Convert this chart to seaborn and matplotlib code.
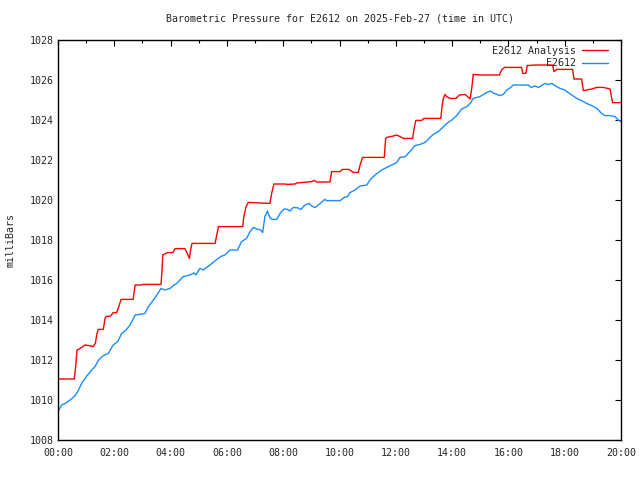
import matplotlib
matplotlib.use("Agg")
import matplotlib.pyplot as plt
import seaborn as sns
import pandas as pd
from matplotlib.ticker import MultipleLocator

# hours since 00:00 UTC
analysis_hours = [
    0.0, 0.58, 0.63, 0.675, 0.75, 0.96, 1.10, 1.25, 1.33, 1.385, 1.43, 1.61,
    1.67, 1.70, 1.87, 1.96, 2.08, 2.14, 2.24, 2.67, 2.74, 2.97, 3.02, 3.66,
    3.70, 3.72, 3.78, 3.90, 4.08, 4.16, 4.51, 4.59, 4.67, 4.71, 4.76, 5.58,
    5.64, 5.70, 6.56, 6.60, 6.68, 6.76, 7.53, 7.59, 7.67, 8.08, 8.15, 8.42,
    8.48, 8.71, 9.01, 9.11, 9.19, 9.66, 9.72, 10.02, 10.10, 10.34, 10.49,
    10.67, 10.73, 10.82, 11.59, 11.64, 11.68, 11.91, 12.03, 12.15, 12.27,
    12.60, 12.65, 12.71, 12.92, 13.00, 13.60, 13.64, 13.69, 13.75, 13.81,
    13.93, 14.14, 14.26, 14.46, 14.55, 14.64, 14.70, 14.75, 14.99, 15.68,
    15.76, 15.86, 16.47, 16.51, 16.62, 16.67, 16.94, 17.57, 17.62, 17.72,
    18.28, 18.33, 18.60, 18.66, 18.96, 19.14, 19.37, 19.61, 19.70, 20.0,
]
analysis_mb = [
    1011.05, 1011.05, 1011.72, 1012.50, 1012.55, 1012.75, 1012.72, 1012.67,
    1012.85, 1013.33, 1013.53, 1013.53, 1014.08, 1014.17, 1014.20, 1014.37,
    1014.37, 1014.58, 1015.03, 1015.03, 1015.75, 1015.75, 1015.78, 1015.78,
    1016.60, 1017.25, 1017.30, 1017.37, 1017.37, 1017.57, 1017.57, 1017.33,
    1017.08, 1017.50, 1017.83, 1017.83, 1018.25, 1018.67, 1018.67, 1019.17,
    1019.67, 1019.88, 1019.83, 1020.33, 1020.80, 1020.80, 1020.78, 1020.80,
    1020.85, 1020.88, 1020.92, 1020.98, 1020.90, 1020.90, 1021.42, 1021.42,
    1021.53, 1021.53, 1021.38, 1021.38, 1021.75, 1022.13, 1022.13, 1023.08,
    1023.13, 1023.20, 1023.25, 1023.17, 1023.08, 1023.08, 1023.58, 1023.98,
    1023.98, 1024.08, 1024.08, 1024.67, 1025.08, 1025.28, 1025.17, 1025.08,
    1025.08, 1025.25, 1025.28, 1025.17, 1025.05, 1025.60, 1026.28, 1026.25,
    1026.25, 1026.50, 1026.63, 1026.63, 1026.33, 1026.33, 1026.72, 1026.75,
    1026.75, 1026.42, 1026.53, 1026.53, 1026.05, 1026.05, 1025.47, 1025.55,
    1025.63, 1025.63, 1025.55, 1024.87, 1024.87,
]

station_hours = [
    0.0, 0.13, 0.25, 0.43, 0.60, 0.70, 0.84, 1.02, 1.20, 1.31, 1.46, 1.61,
    1.79, 1.96, 2.12, 2.26, 2.40, 2.56, 2.74, 2.91, 3.09, 3.21, 3.39, 3.51,
    3.66, 3.80, 3.98, 4.13, 4.22, 4.45, 4.69, 4.83, 4.90, 5.04, 5.16, 5.40,
    5.64, 5.82, 5.93, 6.11, 6.38, 6.52, 6.70, 6.82, 6.94, 7.06, 7.20, 7.27,
    7.35, 7.44, 7.51, 7.59, 7.77, 7.89, 8.03, 8.15, 8.24, 8.36, 8.54, 8.63,
    8.75, 8.92, 9.01, 9.13, 9.25, 9.48, 9.54, 10.02, 10.17, 10.29, 10.37,
    10.55, 10.73, 10.97, 11.08, 11.26, 11.50, 11.68, 11.85, 12.03, 12.15,
    12.33, 12.50, 12.68, 12.86, 13.04, 13.21, 13.33, 13.51, 13.63, 13.81,
    13.99, 14.16, 14.34, 14.52, 14.64, 14.75, 14.99, 15.17, 15.35, 15.46,
    15.70, 15.82, 15.94, 16.06, 16.17, 16.71, 16.80, 16.94, 17.06, 17.18,
    17.30, 17.42, 17.54, 17.66, 17.83, 18.01, 18.13, 18.25, 18.43, 18.60,
    18.78, 18.96, 19.14, 19.31, 19.43, 19.61, 19.79, 19.90, 20.0,
]
station_mb = [
    1009.42, 1009.75, 1009.83, 1010.00, 1010.20, 1010.42, 1010.83, 1011.20,
    1011.50, 1011.67, 1012.03, 1012.22, 1012.33, 1012.75, 1012.92, 1013.33,
    1013.47, 1013.75, 1014.25, 1014.28, 1014.33, 1014.67, 1015.00, 1015.25,
    1015.58, 1015.50, 1015.58, 1015.75, 1015.83, 1016.17, 1016.25, 1016.35,
    1016.25, 1016.58, 1016.50, 1016.75, 1017.03, 1017.20, 1017.25, 1017.50,
    1017.50, 1017.92, 1018.08, 1018.42, 1018.63, 1018.55, 1018.50, 1018.37,
    1019.17, 1019.45, 1019.17, 1019.03, 1019.03, 1019.33, 1019.55, 1019.53,
    1019.45, 1019.63, 1019.60, 1019.52, 1019.73, 1019.83, 1019.70, 1019.62,
    1019.75, 1020.03, 1019.97, 1019.97, 1020.13, 1020.17, 1020.37, 1020.50,
    1020.70, 1020.75, 1021.00, 1021.25, 1021.50, 1021.63, 1021.75, 1021.87,
    1022.13, 1022.17, 1022.42, 1022.72, 1022.78, 1022.88, 1023.12, 1023.28,
    1023.42, 1023.58, 1023.83, 1024.00, 1024.22, 1024.55, 1024.67, 1024.83,
    1025.08, 1025.17, 1025.33, 1025.45, 1025.35, 1025.22, 1025.28, 1025.50,
    1025.60, 1025.75, 1025.75, 1025.63, 1025.70, 1025.63, 1025.72, 1025.83,
    1025.78, 1025.83, 1025.72, 1025.58, 1025.50, 1025.37, 1025.25, 1025.08,
    1024.97, 1024.83, 1024.72, 1024.58, 1024.33, 1024.22, 1024.22, 1024.17,
    1024.00, 1023.92,
]

tick_hours = list(range(0, 21, 2))
tick_labels = [f"{h:02d}:00" for h in tick_hours]

sns.set_style("white")
plt.rcParams["font.family"] = ["DejaVu Sans Mono"]
plt.rcParams["font.size"] = 7.2

fig = plt.figure(figsize=(6.4, 4.8), dpi=100)
ax = fig.add_axes([58 / 640, 40 / 480, 563 / 640, 400 / 480])

analysis = pd.DataFrame({"hour": analysis_hours, "mb": analysis_mb})
station = pd.DataFrame({"hour": station_hours, "mb": station_mb})

sns.lineplot(data=analysis, x="hour", y="mb", ax=ax, color="#ff0000",
             lw=1.0, estimator=None, sort=False, label="E2612 Analysis")
sns.lineplot(data=station, x="hour", y="mb", ax=ax, color="#1a8cff",
             lw=1.0, estimator=None, sort=False, label="E2612")

ax.set_xlim(0, 20)
ax.set_ylim(1008, 1028)
ax.set_xticks(tick_hours)
ax.set_xticklabels(tick_labels)
ax.xaxis.set_minor_locator(MultipleLocator(1))
ax.yaxis.set_major_locator(MultipleLocator(2))
ax.tick_params(axis="both", which="both", direction="in", top=True,
               right=True, color="black", labelsize=7.2)
ax.tick_params(axis="both", which="major", length=4, width=0.8)
ax.tick_params(axis="both", which="minor", length=2, width=0.8)
ax.tick_params(axis="x", pad=6)
ax.tick_params(axis="y", pad=3)
for s in ax.spines.values():
    s.set_color("black")
    s.set_linewidth(1.0)

ax.set_xlabel("")
ax.set_ylabel("milliBars", fontsize=7.2)
ax.yaxis.set_label_coords(-0.076, 0.5)
ax.set_title("Barometric Pressure for E2612 on 2025-Feb-27 (time in UTC)",
             fontsize=7.2, pad=13)

# gnuplot-style key: right-aligned text, sample line after it
ax.legend(loc="upper right", bbox_to_anchor=(0.987, 1.0), frameon=False,
          markerfirst=False, handlelength=2.6, handletextpad=0.6,
          labelspacing=0.25, borderaxespad=0.3, borderpad=0.3, fontsize=7.2)

fig.savefig("out.png", dpi=100)
plt.close(fig)
